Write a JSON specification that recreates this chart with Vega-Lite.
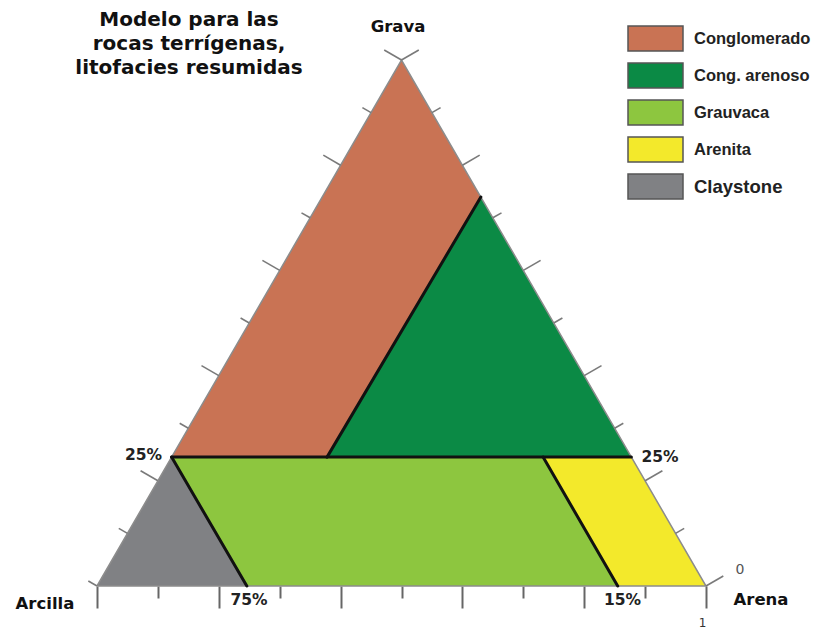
{
  "$schema": "https://vega.github.io/schema/vega-lite/v6.json",
  "width": 609,
  "height": 526,
  "autosize": {"type": "none"},
  "padding": {"left": 97, "top": 60, "right": 109, "bottom": 45},
  "background": "white",
  "config": {"view": {"stroke": null}},
  "datasets": {
    "poligonos": [
      {"tipo": "Conglomerado", "i": 0, "x": 0.1225, "y": 0.2122},
      {"tipo": "Conglomerado", "i": 1, "x": 0.5, "y": 0.866},
      {"tipo": "Conglomerado", "i": 2, "x": 0.6303, "y": 0.6404},
      {"tipo": "Conglomerado", "i": 3, "x": 0.3777, "y": 0.2122},
      {"tipo": "Cong. arenoso", "i": 0, "x": 0.3777, "y": 0.2122},
      {"tipo": "Cong. arenoso", "i": 1, "x": 0.6303, "y": 0.6404},
      {"tipo": "Cong. arenoso", "i": 2, "x": 0.8775, "y": 0.2122},
      {"tipo": "Grauvaca", "i": 0, "x": 0.1225, "y": 0.2122},
      {"tipo": "Grauvaca", "i": 1, "x": 0.7325, "y": 0.2122},
      {"tipo": "Grauvaca", "i": 2, "x": 0.855, "y": 0},
      {"tipo": "Grauvaca", "i": 3, "x": 0.246, "y": 0},
      {"tipo": "Arenita", "i": 0, "x": 0.7325, "y": 0.2122},
      {"tipo": "Arenita", "i": 1, "x": 0.8775, "y": 0.2122},
      {"tipo": "Arenita", "i": 2, "x": 1, "y": 0},
      {"tipo": "Arenita", "i": 3, "x": 0.855, "y": 0},
      {"tipo": "Claystone", "i": 0, "x": 0, "y": 0},
      {"tipo": "Claystone", "i": 1, "x": 0.1225, "y": 0.2122},
      {"tipo": "Claystone", "i": 2, "x": 0.246, "y": 0}
    ],
    "contorno": [
      {"i": 0, "x": 0, "y": 0},
      {"i": 1, "x": 1, "y": 0},
      {"i": 2, "x": 0.5, "y": 0.866},
      {"i": 3, "x": 0, "y": 0}
    ],
    "limites": [
      {"x": 0.1225, "y": 0.2122, "x2": 0.8775, "y2": 0.2122},
      {"x": 0.3777, "y": 0.2122, "x2": 0.6303, "y2": 0.6404},
      {"x": 0.1225, "y": 0.2122, "x2": 0.246, "y2": 0},
      {"x": 0.7325, "y": 0.2122, "x2": 0.855, "y2": 0}
    ],
    "marcas": [
      {"x": 0, "y": 0, "x2": -0.0142, "y2": 0.0082},
      {"x": 0.05, "y": 0.0866, "x2": 0.0358, "y2": 0.0948},
      {"x": 0.1, "y": 0.1732, "x2": 0.0716, "y2": 0.1897},
      {"x": 0.15, "y": 0.2598, "x2": 0.1358, "y2": 0.268},
      {"x": 0.2, "y": 0.3464, "x2": 0.1716, "y2": 0.3629},
      {"x": 0.25, "y": 0.433, "x2": 0.2358, "y2": 0.4412},
      {"x": 0.3, "y": 0.5196, "x2": 0.2716, "y2": 0.5361},
      {"x": 0.35, "y": 0.6062, "x2": 0.3358, "y2": 0.6144},
      {"x": 0.4, "y": 0.6928, "x2": 0.3716, "y2": 0.7093},
      {"x": 0.45, "y": 0.7794, "x2": 0.4358, "y2": 0.7876},
      {"x": 0.5, "y": 0.866, "x2": 0.4716, "y2": 0.8825},
      {"x": 1, "y": 0, "x2": 1.0284, "y2": 0.0165},
      {"x": 0.95, "y": 0.0866, "x2": 0.9642, "y2": 0.0948},
      {"x": 0.9, "y": 0.1732, "x2": 0.9284, "y2": 0.1897},
      {"x": 0.85, "y": 0.2598, "x2": 0.8642, "y2": 0.268},
      {"x": 0.8, "y": 0.3464, "x2": 0.8284, "y2": 0.3629},
      {"x": 0.75, "y": 0.433, "x2": 0.7642, "y2": 0.4412},
      {"x": 0.7, "y": 0.5196, "x2": 0.7284, "y2": 0.5361},
      {"x": 0.65, "y": 0.6062, "x2": 0.6642, "y2": 0.6144},
      {"x": 0.6, "y": 0.6928, "x2": 0.6284, "y2": 0.7093},
      {"x": 0.55, "y": 0.7794, "x2": 0.5642, "y2": 0.7876},
      {"x": 0.5, "y": 0.866, "x2": 0.5284, "y2": 0.8825}
    ],
    "titulo": [
      {"t": "Modelo para las\nrocas terrígenas,\nlitofacies resumidas", "x": 0.1511, "y": 0.922}
    ],
    "vertices": [
      {"t": "Grava", "x": 0.4943, "y": 0.9121},
      {"t": "Arena", "x": 1.0903, "y": -0.0313},
      {"t": "Arcilla", "x": -0.0854, "y": -0.0379}
    ],
    "porcentajes": [
      {"t": "25%", "x": 0.0764, "y": 0.2074},
      {"t": "25%", "x": 0.9245, "y": 0.2041},
      {"t": "75%", "x": 0.2496, "y": -0.0313},
      {"t": "15%", "x": 0.8629, "y": -0.0313}
    ],
    "cero": [
      {"t": "0", "x": 1.0558, "y": 0.0198}
    ]
  },
  "layer": [
    {
      "data": {"name": "poligonos"},
      "mark": {"type": "line", "filled": true, "strokeWidth": 0, "opacity": 1},
      "encoding": {
        "x": {
          "field": "x", "type": "quantitative",
          "scale": {"domain": [0, 1], "nice": false, "zero": false},
          "axis": {
            "values": [0, 0.1, 0.2, 0.3, 0.4, 0.5, 0.6, 0.7, 0.8, 0.9, 1],
            "domain": false, "grid": false, "title": null,
            "tickColor": "#666", "tickWidth": 2,
            "tickSize": {"condition": {"test": "round(datum.value*10) % 2 === 0", "value": 22}, "value": 12},
            "labelExpr": "datum.value === 1 ? '1' : ''",
            "labelFont": "DejaVu Sans", "labelFontSize": 12, "labelColor": "#333",
            "labelPadding": 9
          }
        },
        "y": {
          "field": "y", "type": "quantitative",
          "scale": {"domain": [0, 0.866], "nice": false, "zero": false},
          "axis": null
        },
        "color": {
          "field": "tipo", "type": "nominal",
          "scale": {
            "domain": ["Conglomerado", "Cong. arenoso", "Grauvaca", "Arenita", "Claystone"],
            "range": ["#c97354", "#0b8a45", "#8dc63f", "#f3e92b", "#808184"]
          },
          "legend": {
            "orient": "none", "legendX": 545, "legendY": -35,
            "title": null, "padding": 0,
            "symbolType": "M-2.2,-1H2.2V1H-2.2Z", "symbolSize": 625,
            "symbolStrokeColor": "#555", "symbolStrokeWidth": 1.5, "symbolOpacity": 1,
            "labelFont": "Liberation Sans", "labelFontWeight": "bold", "labelFontSize": 16.5,
            "labelColor": "#222", "labelOffset": 25, "rowPadding": 6,
            "encode": {"labels": {"update": {"fontSize": {"signal": "datum.value === 'Claystone' ? 18.5 : 16.5"}}}}
          }
        },
        "detail": {"field": "tipo"},
        "order": {"field": "i", "type": "quantitative"}
      }
    },
    {
      "data": {"name": "contorno"},
      "mark": {"type": "line", "color": "#8c8c8c", "strokeWidth": 1.5},
      "encoding": {
        "x": {"field": "x", "type": "quantitative"},
        "y": {"field": "y", "type": "quantitative"},
        "order": {"field": "i", "type": "quantitative"}
      }
    },
    {
      "data": {"name": "marcas"},
      "mark": {"type": "rule", "color": "#7a7a7a", "strokeWidth": 1.6},
      "encoding": {
        "x": {"field": "x", "type": "quantitative"},
        "y": {"field": "y", "type": "quantitative"},
        "x2": {"field": "x2"},
        "y2": {"field": "y2"}
      }
    },
    {
      "data": {"name": "limites"},
      "mark": {"type": "rule", "color": "#111", "strokeWidth": 3, "strokeCap": "round"},
      "encoding": {
        "x": {"field": "x", "type": "quantitative"},
        "y": {"field": "y", "type": "quantitative"},
        "x2": {"field": "x2"},
        "y2": {"field": "y2"}
      }
    },
    {
      "data": {"name": "titulo"},
      "mark": {"type": "text", "font": "DejaVu Sans", "fontWeight": "bold", "fontSize": 20, "lineBreak": "\n", "lineHeight": 24, "align": "center", "baseline": "alphabetic", "color": "#111"},
      "encoding": {
        "x": {"field": "x", "type": "quantitative"},
        "y": {"field": "y", "type": "quantitative"},
        "text": {"field": "t"}
      }
    },
    {
      "data": {"name": "vertices"},
      "mark": {"type": "text", "font": "DejaVu Sans", "fontWeight": "bold", "fontSize": 16.5, "align": "center", "baseline": "alphabetic", "color": "#111"},
      "encoding": {
        "x": {"field": "x", "type": "quantitative"},
        "y": {"field": "y", "type": "quantitative"},
        "text": {"field": "t"}
      }
    },
    {
      "data": {"name": "porcentajes"},
      "mark": {"type": "text", "font": "DejaVu Sans", "fontWeight": "bold", "fontSize": 15.5, "align": "center", "baseline": "alphabetic", "color": "#222"},
      "encoding": {
        "x": {"field": "x", "type": "quantitative"},
        "y": {"field": "y", "type": "quantitative"},
        "text": {"field": "t"}
      }
    },
    {
      "data": {"name": "cero"},
      "mark": {"type": "text", "font": "DejaVu Sans", "fontSize": 14, "align": "center", "baseline": "alphabetic", "color": "#555"},
      "encoding": {
        "x": {"field": "x", "type": "quantitative"},
        "y": {"field": "y", "type": "quantitative"},
        "text": {"field": "t"}
      }
    }
  ]
}
